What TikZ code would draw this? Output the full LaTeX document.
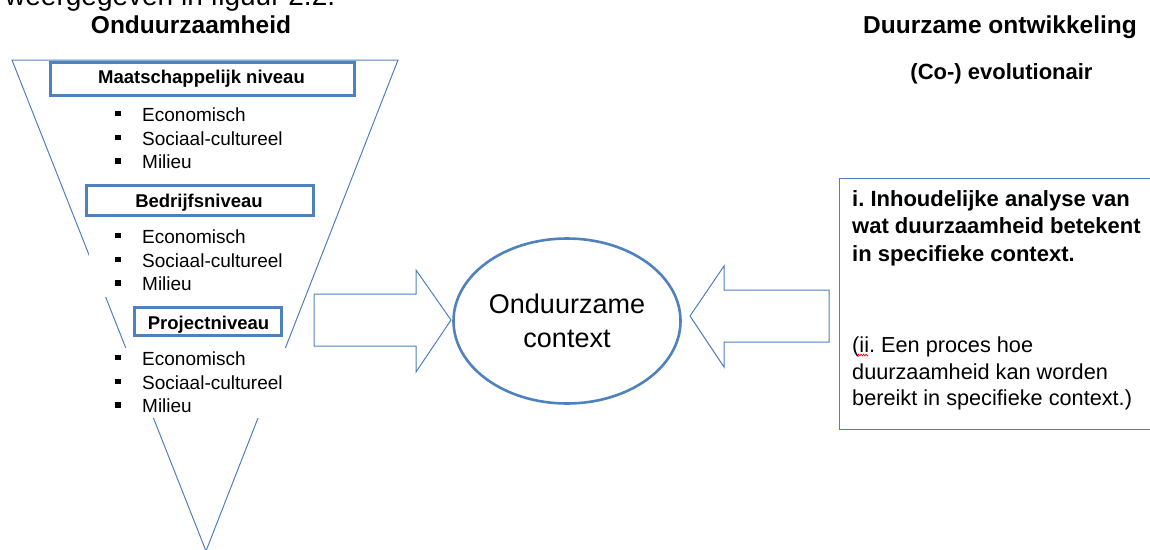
\documentclass[tikz,border=0pt]{standalone}
\usepackage{fontspec}
\setmainfont{Liberation Sans}
\usetikzlibrary{shapes.geometric,decorations.pathmorphing}
\definecolor{ob}{RGB}{79,129,189}
\frenchspacing
\begin{document}
\begin{tikzpicture}[x=1pt,y=-1pt,
  fline/.style={draw=ob, line width=1pt},
  lvlbox/.style={draw=ob, line width=2.8pt, fill=white, inner sep=0pt, rectangle},
  lvltxt/.style={font=\fontsize{18.5}{22}\selectfont\bfseries, anchor=base, inner sep=0pt},
  itm/.style={font=\fontsize{19}{23}\selectfont, anchor=base west, inner sep=0pt},
  blt/.style={fill=black, inner sep=0pt, minimum size=5.5pt, rectangle},
  ttl/.style={font=\fontsize{24.5}{29}\selectfont\bfseries, anchor=base, inner sep=0pt},
  boldtxt/.style={font=\fontsize{22}{27}\selectfont\bfseries, anchor=base west, inner sep=0pt},
  regtxt/.style={font=\fontsize{21.7}{26}\selectfont, anchor=base west, inner sep=0pt}
]
\useasboundingbox (0,0) rectangle (1150,549);
\clip (0,0) rectangle (1150,549);

% cut-off line of body text at the top
\node[anchor=base west, inner sep=0pt, font=\fontsize{28}{32}\selectfont] (cut) at (5,5) {weergegeven in figuur 2.2.};

% titles
\node[ttl] (tOnd) at (191,33) {Onduurzaamheid};
\node[ttl] (tDO) at (1000,33) {Duurzame ontwikkeling};
\node[ttl, font=\fontsize{22}{26}\selectfont\bfseries] (tCo) at (1001.5,79) {(Co-) evolutionair};

% funnel
\coordinate (fTL) at (12,60);
\coordinate (fTR) at (398,60);
\coordinate (fB) at (206,551);
\draw[fline] (fTL) -- (fTR) -- (fB) -- cycle;

% white backgrounds of the lists
\fill[white] (89,103) rectangle (300,175);
\fill[white] (89,225) rectangle (300,297);
\fill[white] (89,348) rectangle (292,418);

% level boxes
\node[lvlbox, minimum width=304pt, minimum height=33pt] (bM) at (202.5,79) {};
\node[lvltxt] (tM) at (201.5,83) {Maatschappelijk niveau};
\node[lvlbox, minimum width=227pt, minimum height=30.5pt] (bB) at (200,200.5) {};
\node[lvltxt] (tB) at (199,207) {Bedrijfsniveau};
\node[lvlbox, minimum width=147pt, minimum height=28.5pt] (bP) at (208,321.5) {};
\node[lvltxt] (tP) at (208.5,329) {Projectniveau};

% bullet lists
\foreach \b/\n in {121/a,243/b,365/c}{
  \node[itm] (e\n) at (142,\b) {Economisch};
  \node[blt] (be\n) at (118,\b-7.5) {};
  \node[itm] (s\n) at (142,\b+24) {Sociaal-cultureel};
  \node[blt] (bs\n) at (118,\b+16.5) {};
  \node[itm] (m\n) at (142,\b+47.5) {Milieu};
  \node[blt] (bm\n) at (118,\b+40) {};
}

% central ellipse
\node[ellipse, draw=ob, line width=2.6pt, minimum width=227pt, minimum height=165pt,
      inner sep=0pt, align=center, font=\fontsize{27}{34}\selectfont] (ctx) at (567,321) {Onduurzame\\context};

% block arrows
\draw[fline, fill=white] (314,294) -- (416,294) -- (416,270) -- (451,320) -- (416,372) -- (416,346) -- (314,346) -- cycle;
\draw[fline, fill=white] (829,290) -- (724,290) -- (724,266) -- (690,316) -- (724,367) -- (724,342) -- (829,342) -- cycle;

% right text box
\node[draw=ob, line width=1pt, rectangle, inner sep=0pt, anchor=north west,
      minimum width=330pt, minimum height=251pt] (rbox) at (839,178) {};
\node[boldtxt] (r1) at (852,206) {i. Inhoudelijke analyse van};
\node[boldtxt] (r2) at (852,233) {wat duurzaamheid betekent};
\node[boldtxt] (r3) at (852,261) {in specifieke context.};
\node[regtxt] (r4) at (852,352) {(ii. Een proces hoe};
\node[regtxt] (r5) at (852,379) {duurzaamheid kan worden};
\node[regtxt] (r6) at (852,405) {bereikt in specifieke context.)};
\draw[red, line width=0.6pt, decorate, decoration={zigzag, amplitude=1pt, segment length=2.5pt}] (858,355) -- (868,355);
\end{tikzpicture}
\end{document}
